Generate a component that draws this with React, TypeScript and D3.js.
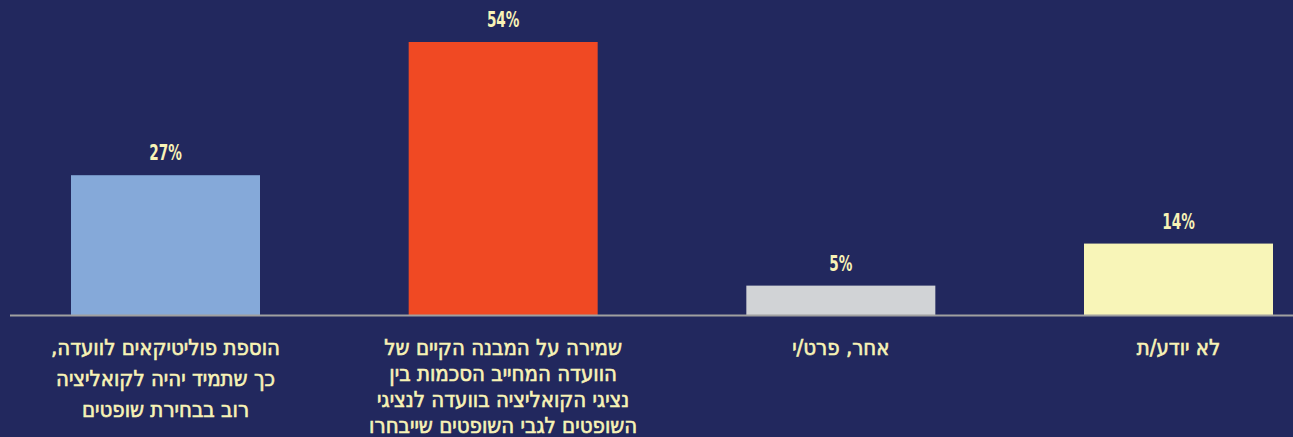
import React from "react";
import * as d3 from "d3";

const categories = ["a", "b", "c", "d"];
const values = [27.7, 54, 5.9, 14.2];
const valueLabels = ["27%", "54%", "5%", "14%"];
const categoryLabels = [
  ["הוספת פוליטיקאים לוועדה,", "כך שתמיד יהיה לקואליציה", "רוב בבחירת שופטים"],
  ["שמירה על המבנה הקיים של", "הוועדה המחייב הסכמות בין", "נציגי הקואליציה בוועדה לנציגי", "השופטים לגבי השופטים שייבחרו"],
  ["אחר, פרט/י"],
  ["לא יודע/ת"],
];
const colors = ["#85a9d9", "#f04923", "#d1d3d6", "#f8f5b8"];

const W = 1293;
const H = 437;
const BG = "#22285e";
const TEXT = "#f8f3b6";
const FONT = "'DejaVu Sans Condensed', 'DejaVu Sans', sans-serif";

export default function App() {
  const baseline = 315.5;
  const x = d3.scalePoint<string>().domain(categories).range([165.5, 1178.5]);
  const y = d3.scaleLinear().domain([0, 54]).range([baseline, 42]);
  const barW = 189;

  return (
    <svg
      width={W}
      height={H}
      style={{ position: "absolute", left: 0, top: 0, display: "block" }}
    >
      <rect x={0} y={0} width={W} height={H} fill={BG} />
      {categories.map((c, i) => {
        const cx = x(c)!;
        const top = y(values[i]);
        return (
          <g key={c}>
            <rect x={cx - barW / 2} y={top} width={barW} height={baseline - top} fill={colors[i]} />
            <text
              transform={`translate(${cx},${top - 15}) scale(0.72,1)`}
              textAnchor="middle"
              fill={TEXT}
              fontFamily={FONT}
              fontWeight="bold"
              fontSize={21}
            >
              {valueLabels[i]}
            </text>
          </g>
        );
      })}
      <line x1={10} x2={W} y1={baseline} y2={baseline} stroke="#a0a0a0" strokeWidth={2} />
      {categories.map((c, i) => {
        const lines = categoryLabels[i];
        const lh = lines.length > 3 ? 26 : 31;
        return (
          <text
            key={c}
            x={x(c)!}
            y={355}
            textAnchor="middle"
            direction="rtl"
            fill={TEXT}
            stroke={TEXT}
            strokeWidth={0.6}
            fontFamily={FONT}
            fontSize={22}
          >
            {lines.map((l, j) => (
              <tspan key={j} x={x(c)!} dy={j === 0 ? 0 : lh}>
                {l}
              </tspan>
            ))}
          </text>
        );
      })}
    </svg>
  );
}
